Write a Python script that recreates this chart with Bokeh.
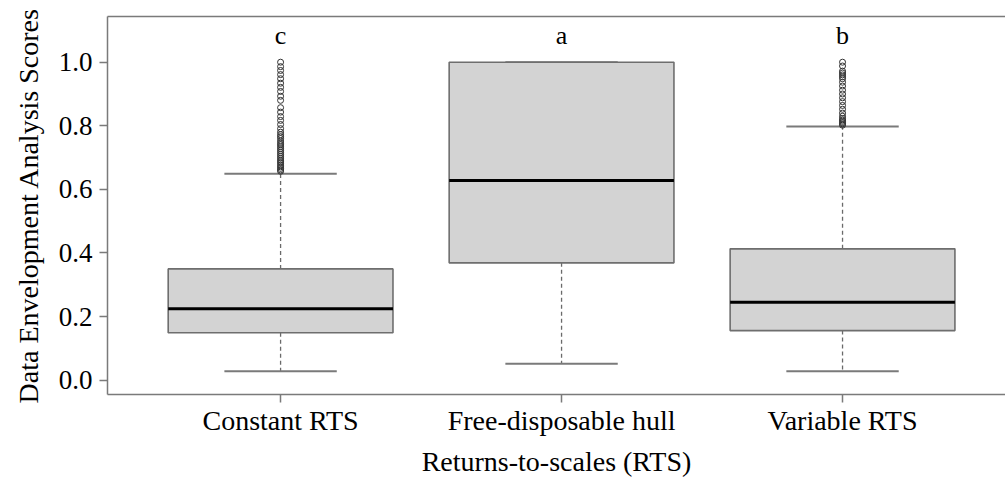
from bokeh.plotting import figure
from bokeh.models import FixedTicker, PrintfTickFormatter, LinearAxis, Range1d, ColumnDataSource
from bokeh.core.properties import value
from bokeh.embed import file_html
from bokeh.resources import INLINE

# ---- data ----
categories = ["Constant RTS", "Free-disposable hull", "Variable RTS"]
lower_whisker = [0.028, 0.052, 0.028]
q1 = [0.149, 0.369, 0.156]
median = [0.2245, 0.628, 0.245]
q3 = [0.350, 1.000, 0.413]
upper_whisker = [0.649, 1.000, 0.798]
group_letters = ["c", "a", "b"]

outliers_crs = [1.000, 0.986, 0.974, 0.961, 0.948, 0.934, 0.921, 0.908, 0.893, 0.880,
                0.857, 0.843, 0.829, 0.817, 0.804, 0.791,
                0.780, 0.772, 0.766, 0.760, 0.752, 0.745, 0.740, 0.734, 0.728, 0.722,
                0.716, 0.710, 0.704, 0.698, 0.692, 0.687, 0.682, 0.676, 0.671, 0.666,
                0.661, 0.657]
outliers_fdh = []
outliers_vrs = [1.000, 0.988, 0.972, 0.966, 0.960, 0.954, 0.948, 0.937, 0.925, 0.912,
                0.900, 0.888, 0.876, 0.864, 0.852, 0.840, 0.830, 0.823, 0.818, 0.814,
                0.810, 0.806, 0.802]

tick_values = [0.0, 0.2, 0.4, 0.6, 0.8, 1.0]
x_title = "Returns-to-scales (RTS)"
y_title = "Data Envelopment Analysis Scores"

FONT = "Liberation Serif"
GRAY = "#7a7a7a"

xpos = [i + 1 for i in range(len(categories))]
box_w = 0.8
cap_w = 0.4

p = figure(width=1005, height=492, output_backend="svg", toolbar_location=None,
           x_range=Range1d(0.384, 3.580), y_range=Range1d(-0.045, 1.1437),
           min_border_left=107, min_border_right=0, min_border_top=16, min_border_bottom=98)
p.grid.visible = False
p.outline_line_color = None
p.background_fill_color = "white"
p.border_fill_color = "white"

src = ColumnDataSource(dict(x=xpos, q1=q1, q3=q3, med=median, lo=lower_whisker, hi=upper_whisker,
                            xl=[v - box_w / 2 for v in xpos], xr=[v + box_w / 2 for v in xpos],
                            cl=[v - cap_w / 2 for v in xpos], cr=[v + cap_w / 2 for v in xpos],
                            lab=group_letters, ly=[1.083] * len(xpos)))

# whiskers (dashed)
p.segment(x0="x", y0="q3", x1="x", y1="hi", source=src, line_color="#6a6a6a",
          line_width=1.3, line_dash="4 3")
p.segment(x0="x", y0="q1", x1="x", y1="lo", source=src, line_color="#6a6a6a",
          line_width=1.3, line_dash="4 3")
# caps
p.segment(x0="cl", y0="hi", x1="cr", y1="hi", source=src, line_color=GRAY, line_width=2)
p.segment(x0="cl", y0="lo", x1="cr", y1="lo", source=src, line_color=GRAY, line_width=2)
# boxes
p.vbar(x="x", width=box_w, bottom="q1", top="q3", source=src,
       fill_color="#d3d3d3", line_color="#6e6e6e", line_width=1.6)
# medians
p.segment(x0="xl", y0="med", x1="xr", y1="med", source=src, line_color="black", line_width=3)

# outliers
ox, oy = [], []
for xi, arr in zip(xpos, [outliers_crs, outliers_fdh, outliers_vrs]):
    ox += [xi] * len(arr)
    oy += arr
p.scatter(ox, oy, marker="circle", size=6, fill_color=None, line_color="#333333", line_width=1)

# group letters
p.text(x="x", y="ly", text="lab", source=src,
       text_font=value(FONT), text_font_size="26px", text_align="center",
       text_baseline="alphabetic", text_color="black")

# axes
xa = p.xaxis[0]
xa.ticker = FixedTicker(ticks=xpos)
xa.major_label_overrides = {i + 1: c for i, c in enumerate(categories)}
xa.axis_line_color = GRAY
xa.axis_line_width = 1.5
xa.major_tick_line_color = GRAY
xa.major_tick_line_width = 1.5
xa.major_tick_out = 8
xa.major_tick_in = 0
xa.minor_tick_line_color = None
xa.major_label_text_font = FONT
xa.major_label_text_font_size = "28px"
xa.major_label_text_color = "black"
xa.major_label_standoff = 2
xa.axis_label = x_title
xa.axis_label_text_font = FONT
xa.axis_label_text_font_size = "28px"
xa.axis_label_text_font_style = "normal"
xa.axis_label_text_color = "black"
xa.axis_label_standoff = 7

ya = p.yaxis[0]
ya.ticker = FixedTicker(ticks=tick_values)
ya.formatter = PrintfTickFormatter(format="%.1f")
ya.axis_line_color = GRAY
ya.axis_line_width = 1.5
ya.major_tick_line_color = GRAY
ya.major_tick_line_width = 1.5
ya.major_tick_out = 8
ya.major_tick_in = 0
ya.minor_tick_line_color = None
ya.major_label_text_font = FONT
ya.major_label_text_font_size = "27px"
ya.major_label_text_color = "black"
ya.major_label_standoff = 7
ya.axis_label = y_title
ya.axis_label_text_font = FONT
ya.axis_label_text_font_size = "28px"
ya.axis_label_text_font_style = "normal"
ya.axis_label_text_color = "black"
ya.axis_label_standoff = 12

top = LinearAxis(ticker=FixedTicker(ticks=[]), axis_line_color=GRAY, axis_line_width=1.5,
                 major_tick_line_color=None, minor_tick_line_color=None,
                 major_label_text_font_size="0px", major_label_standoff=0)
p.add_layout(top, "above")

open("out.html", "w").write(file_html(p, INLINE))
